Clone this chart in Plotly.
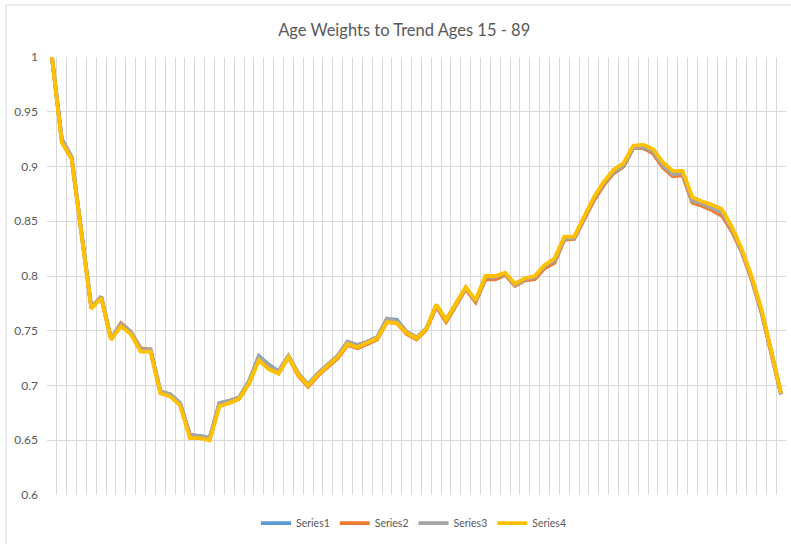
import plotly.graph_objects as go

# 年齢カテゴリ 15〜89
ages = list(range(15, 90))

series1 = [1.000, 0.925, 0.908, 0.840, 0.771, 0.781, 0.743, 0.755, 0.748, 0.733,
           0.732, 0.694, 0.692, 0.684, 0.655, 0.654, 0.652, 0.684, 0.686, 0.689,
           0.704, 0.727, 0.719, 0.713, 0.727, 0.711, 0.701, 0.711, 0.719, 0.727,
           0.740, 0.737, 0.740, 0.744, 0.761, 0.760, 0.749, 0.744, 0.752, 0.773,
           0.760, 0.775, 0.789, 0.777, 0.798, 0.798, 0.802, 0.792, 0.797, 0.798,
           0.808, 0.813, 0.834, 0.834, 0.852, 0.870, 0.884, 0.894, 0.900, 0.917,
           0.917, 0.913, 0.900, 0.892, 0.893, 0.868, 0.865, 0.861, 0.857, 0.842,
           0.823, 0.798, 0.768, 0.731, 0.692]

series2 = [1.000, 0.923, 0.907, 0.839, 0.771, 0.781, 0.742, 0.757, 0.749, 0.734,
           0.733, 0.695, 0.691, 0.683, 0.655, 0.653, 0.651, 0.682, 0.684, 0.688,
           0.702, 0.724, 0.716, 0.711, 0.726, 0.709, 0.699, 0.709, 0.717, 0.725,
           0.737, 0.734, 0.738, 0.742, 0.758, 0.757, 0.747, 0.742, 0.751, 0.772,
           0.758, 0.773, 0.788, 0.776, 0.797, 0.797, 0.801, 0.791, 0.796, 0.797,
           0.807, 0.812, 0.833, 0.834, 0.851, 0.869, 0.883, 0.894, 0.900, 0.917,
           0.917, 0.912, 0.899, 0.891, 0.892, 0.867, 0.864, 0.860, 0.855, 0.841,
           0.822, 0.797, 0.767, 0.730, 0.692]

series3 = [1.000, 0.925, 0.909, 0.840, 0.771, 0.781, 0.743, 0.756, 0.749, 0.733,
           0.733, 0.695, 0.692, 0.684, 0.654, 0.654, 0.652, 0.684, 0.686, 0.689,
           0.704, 0.726, 0.718, 0.713, 0.727, 0.711, 0.701, 0.711, 0.719, 0.727,
           0.740, 0.737, 0.740, 0.744, 0.761, 0.759, 0.749, 0.744, 0.752, 0.773,
           0.760, 0.775, 0.789, 0.777, 0.799, 0.799, 0.802, 0.792, 0.797, 0.799,
           0.809, 0.814, 0.834, 0.835, 0.853, 0.871, 0.885, 0.895, 0.901, 0.917,
           0.918, 0.914, 0.901, 0.893, 0.894, 0.869, 0.866, 0.862, 0.858, 0.843,
           0.823, 0.798, 0.768, 0.731, 0.692]

series4 = [1.000, 0.922, 0.907, 0.839, 0.770, 0.780, 0.742, 0.754, 0.747, 0.731,
           0.731, 0.693, 0.690, 0.682, 0.652, 0.652, 0.650, 0.681, 0.684, 0.688,
           0.702, 0.723, 0.715, 0.711, 0.726, 0.710, 0.700, 0.710, 0.718, 0.726,
           0.738, 0.735, 0.739, 0.743, 0.758, 0.757, 0.748, 0.743, 0.752, 0.774,
           0.760, 0.775, 0.790, 0.778, 0.800, 0.800, 0.803, 0.793, 0.798, 0.800,
           0.810, 0.816, 0.836, 0.836, 0.854, 0.872, 0.886, 0.897, 0.903, 0.919,
           0.920, 0.916, 0.904, 0.896, 0.896, 0.872, 0.868, 0.865, 0.861, 0.845,
           0.825, 0.800, 0.770, 0.733, 0.693]

y_ticks = [0.6, 0.65, 0.7, 0.75, 0.8, 0.85, 0.9, 0.95, 1.0]
y_labels = ["0.6", "0.65", "0.7", "0.75", "0.8", "0.85", "0.9", "0.95", "1"]

names = ["Series1", "Series2", "Series3", "Series4"]
colors = ["#5B9BD5", "#ED7D31", "#A5A5A5", "#FFC000"]
font_family = "Lato, Carlito, Calibri, sans-serif"

fig = go.Figure()
for name, values, color in zip(names, [series1, series2, series3, series4], colors):
    fig.add_trace(go.Scatter(
        x=ages,
        y=values,
        mode="lines",
        name=name,
        line=dict(color=color, width=3.8),
    ))

fig.update_layout(
    width=791,
    height=544,
    paper_bgcolor="white",
    plot_bgcolor="white",
    margin=dict(l=47, r=5, t=57, b=49, autoexpand=False),
    font=dict(family=font_family, size=12, color="#595959"),
    title=dict(
        text="Age Weights to Trend Ages 15 - 89",
        x=0.511, xanchor="center",
        y=0.945, yanchor="middle",
        font=dict(family=font_family, size=16.5, color="#595959"),
    ),
    showlegend=True,
    legend=dict(
        orientation="h",
        x=0.496, xanchor="center",
        y=-0.064, yanchor="middle",
        font=dict(family=font_family, size=10.5, color="#595959"),
        itemwidth=30,
        traceorder="normal",
    ),
)

fig.update_xaxes(
    range=[14.5, 89.5],
    tick0=14.5,
    dtick=1,
    showticklabels=False,
    showgrid=True,
    gridcolor="#D9D9D9",
    gridwidth=1,
    zeroline=False,
    showline=False,
    ticks="",
)

fig.update_yaxes(
    range=[0.6, 1.0],
    tickvals=y_ticks,
    ticktext=y_labels,
    showgrid=True,
    gridcolor="#D9D9D9",
    gridwidth=1,
    zeroline=False,
    showline=False,
    ticks="",
    ticklabelstandoff=8,
    tickfont=dict(family=font_family, size=12, color="#595959"),
)

# グラフ枠（左と上だけ見えている）
fig.add_shape(type="line", xref="paper", yref="paper",
              x0=-41 / 739, x1=-41 / 739, y0=1 + 52 / 438, y1=-49 / 438,
              line=dict(color="#D9D9D9", width=1))
fig.add_shape(type="line", xref="paper", yref="paper",
              x0=-41 / 739, x1=1 + 5 / 739, y0=1 + 52 / 438, y1=1 + 52 / 438,
              line=dict(color="#D9D9D9", width=1))

# ページ余白を消して図を左上に合わせる
fig.write_html("out.html", config={"displayModeBar": False},
               post_script="document.body.style.margin='0';")
